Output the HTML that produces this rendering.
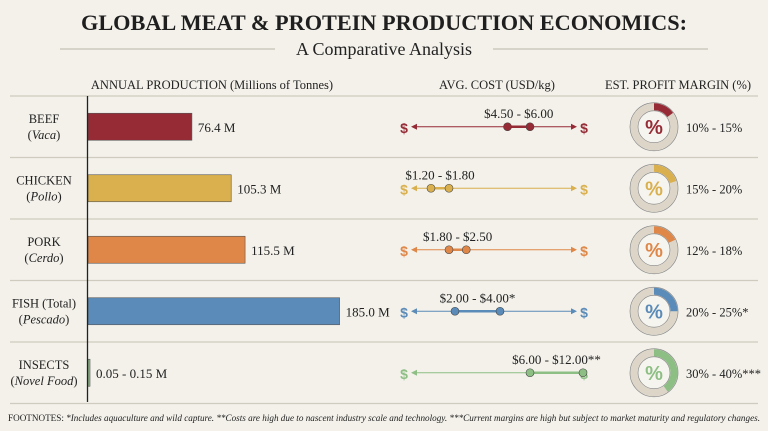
<!DOCTYPE html>
<html><head><meta charset="utf-8"><style>
body{margin:0;background:#f3f1ea;}
svg{display:block;font-family:"Liberation Serif",serif;}
</style></head><body>
<svg id="c" width="768" height="431" viewBox="0 0 768 431">
<rect width="768" height="431" fill="#f3f1ea"/>
<text x="384" y="30" text-anchor="middle" font-size="22" font-weight="bold" fill="#1f1f1f" textLength="606" lengthAdjust="spacingAndGlyphs">GLOBAL MEAT &amp; PROTEIN PRODUCTION ECONOMICS:</text>
<line x1="60" y1="49" x2="275" y2="49" stroke="#b9b5a8"/>
<line x1="493" y1="49" x2="708" y2="49" stroke="#b9b5a8"/>
<text x="384" y="55" text-anchor="middle" font-size="18" fill="#222">A Comparative Analysis</text>
<text x="212" y="89" text-anchor="middle" font-size="12.5" fill="#222">ANNUAL PRODUCTION (Millions of Tonnes)</text>
<text x="497" y="89" text-anchor="middle" font-size="12.5" fill="#222">AVG. COST (USD/kg)</text>
<text x="678" y="89" text-anchor="middle" font-size="12.5" fill="#222">EST. PROFIT MARGIN (%)</text>
<g id="rows"></g>
<line x1="87.5" y1="96" x2="87.5" y2="402" stroke="#222" stroke-width="1.3"/>
<text x="8" y="421" font-size="9.6" font-style="italic" fill="#222" textLength="752" lengthAdjust="spacingAndGlyphs"><tspan font-style="normal">FOOTNOTES:</tspan> *Includes aquaculture and wild capture. **Costs are high due to nascent industry scale and technology. ***Current margins are high but subject to market maturity and regulatory changes.</text>
</svg>
<script>
const categories=["BEEF","CHICKEN","PORK","FISH (Total)","INSECTS"];
const subLabels=["Vaca","Pollo","Cerdo","Pescado","Novel Food"];
const production=[76.4,105.3,115.5,185.0,0.1];
const productionLabels=["76.4 M","105.3 M","115.5 M","185.0 M","0.05 - 0.15 M"];
const costLow=[4.50,1.20,1.80,2.00,6.00];
const costHigh=[6.00,1.80,2.50,4.00,12.00];
const costLabels=["$4.50 - $6.00","$1.20 - $1.80","$1.80 - $2.50","$2.00 - $4.00*","$6.00 - $12.00**"];
const marginHigh=[15,20,18,25,40];
const marginLabels=["10% - 15%","15% - 20%","12% - 18%","20% - 25%*","30% - 40%***"];
const colors=["#962b36","#d9b04d","#df8748","#5b8bb8","#8dbf85"];

const NS="http://www.w3.org/2000/svg";
const g=document.getElementById('rows');
function el(t,a,p){const e=document.createElementNS(NS,t);for(const k in a)e.setAttribute(k,a[k]);(p||g).appendChild(e);return e;}
const rowTop=96,rowH=61.5;
const xProd=v=>88+v*1.36;
const cD=[0,1.2,2,4,6,12],cR=[410,431,455,500,530,583];
function xc(v){for(let i=1;i<cD.length;i++){if(v<=cD[i]||i==cD.length-1)return cR[i-1]+(v-cD[i-1])/(cD[i]-cD[i-1])*(cR[i]-cR[i-1]);}}
let sep=el('line',{x1:10,y1:rowTop,x2:758,y2:rowTop,stroke:'#cfcbbf','stroke-width':1.3});


categories.forEach((c,i)=>{
 const cy=rowTop+rowH*i+rowH/2, col=colors[i];
 const s=el('line',{x1:10,y1:rowTop+rowH*(i+1),x2:758,y2:rowTop+rowH*(i+1),stroke:'#cfcbbf','stroke-width':1.3});
 
 
 const t1=el('text',{x:44,y:cy-4,'text-anchor':'middle','font-size':12.5,fill:'#222'});t1.textContent=c;
 
 
 const t2=el('text',{x:44,y:cy+12,'text-anchor':'middle','font-size':12.5,fill:'#222'});t2.innerHTML='(<tspan font-style="italic">'+subLabels[i]+'</tspan>)';
 
 
 const w=Math.max(xProd(production[i])-88,2);
 const b=el('rect',{x:88,y:cy-13.5,width:w,height:27,fill:col,stroke:'#555','stroke-width':0.6});
 
 
 const bl=el('text',{x:88+w+6,y:cy+5,'font-size':13,fill:'#222'});bl.textContent=productionLabels[i];
 
 
 const d1=el('text',{x:404,y:cy+6,'text-anchor':'middle','font-size':14,'font-weight':'bold',fill:col,'font-family':'Liberation Sans'});d1.textContent='$';
 
 
 const d2=el('text',{x:584,y:cy+6,'text-anchor':'middle','font-size':14,'font-weight':'bold',fill:col,'font-family':'Liberation Sans'});d2.textContent='$';
 
 
 const ln=el('line',{x1:413,y1:cy,x2:575,y2:cy,stroke:col,'stroke-width':1});
 
 
 const a1=el('path',{d:`M411 ${cy} l6 -3 v6z`,fill:col});
 
 
 if(i<4){const a2=el('path',{d:`M577 ${cy} l-6 -3 v6z`,fill:col});
 
 }
 const xl=xc(costLow[i]),xh=xc(costHigh[i]);
 const rl=el('line',{x1:xl,y1:cy,x2:xh,y2:cy,stroke:col,'stroke-width':2.5});
 
 
 [xl,xh].forEach(x=>{const p=el('circle',{cx:x,cy:cy,r:4,fill:col,stroke:'#444','stroke-width':0.6});
 
 });
 const cl=el('text',{x:(xl+xh)/2,y:cy-9,'text-anchor':'middle','font-size':13,fill:'#222'});cl.textContent=costLabels[i];
 
 
 const dx=654,R=20;
 const ring=el('circle',{cx:dx,cy:cy,r:R,fill:'none',stroke:'#ddd6c8','stroke-width':7});
 
 
 const o=el('circle',{cx:dx,cy:cy,r:R+4,fill:'none',stroke:'#888','stroke-width':0.7});
 
 
 const inn=el('circle',{cx:dx,cy:cy,r:R-4,fill:'#f6f4ee',stroke:'#888','stroke-width':0.7});
 
 
 const ang=marginHigh[i]/100*2*Math.PI;
 const ex=dx+R*Math.sin(ang),ey=cy-R*Math.cos(ang);
 const arc=el('path',{d:`M${dx} ${cy-R} A${R} ${R} 0 ${ang>Math.PI?1:0} 1 ${ex} ${ey}`,fill:'none',stroke:col,'stroke-width':7});
 
 
 const pc=el('text',{x:dx,y:cy+7,'text-anchor':'middle','font-size':20,'font-weight':'bold',fill:col,'font-family':'Liberation Sans'});pc.textContent='%';
 
 
 const ml=el('text',{x:686,y:cy+5,'font-size':12.5,fill:'#222'});ml.textContent=marginLabels[i];
 
 
});
</script>
</body></html>
